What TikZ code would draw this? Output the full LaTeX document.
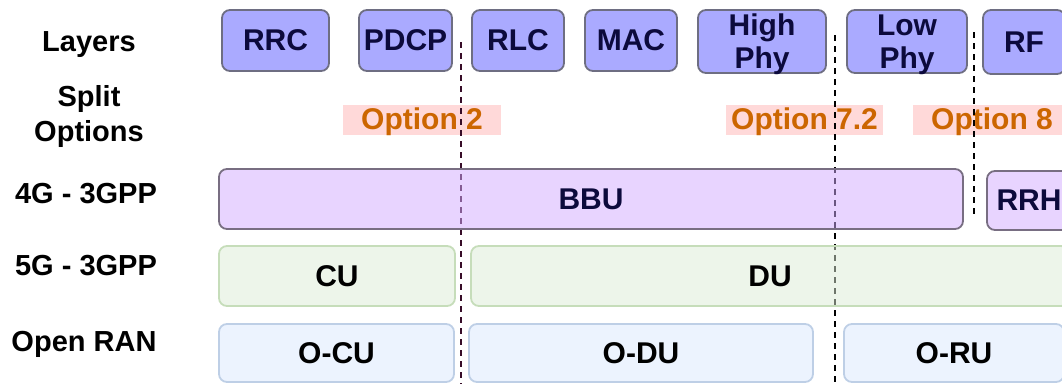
\documentclass[tikz,border=0pt]{standalone}
\usepackage{fontspec}
\setmainfont{Liberation Sans}
\definecolor{layerfill}{RGB}{170,170,255}
\definecolor{layerdraw}{RGB}{110,110,130}
\definecolor{navytext}{RGB}{12,10,60}
\definecolor{bbufill}{RGB}{210,170,255}
\definecolor{bbudraw}{RGB}{120,110,130}
\definecolor{cufill}{RGB}{219,235,213}
\definecolor{cudraw}{RGB}{198,221,186}
\definecolor{orufill}{RGB}{217,231,253}
\definecolor{orudraw}{RGB}{190,207,230}
\definecolor{optfill}{RGB}{255,217,217}
\definecolor{opttext}{RGB}{204,102,0}
\definecolor{splitone}{RGB}{55,12,40}
\begin{document}
\begin{tikzpicture}[x=1pt,y=-1pt,
  every node/.style={font=\fontsize{30}{31}\selectfont\bfseries, inner sep=0pt},
  rowlabel/.style={anchor=base, align=center, font=\fontsize{29}{35}\selectfont\bfseries},
  layerbox/.style={draw=layerdraw, fill=layerfill, line width=1.8pt, rounded corners=8pt,
    text=navytext, align=center},
  layertext/.style={text=navytext, align=center, font=\fontsize{30}{33}\selectfont\bfseries},
  optbox/.style={fill=optfill, text=opttext, minimum height=30pt, text depth=3pt},
  unitbox/.style={line width=1.8pt, rounded corners=8pt, minimum height=60pt, fill opacity=0.5, text opacity=1},
  bbubox/.style={unitbox, draw=bbudraw, fill=bbufill, text=navytext},
  cubox/.style={unitbox, draw=cudraw, fill=cufill, text=black},
  orubox/.style={unitbox, draw=orudraw, fill=orufill, text=black, minimum height=58pt},
  splitline/.style={line width=1.8pt, dash pattern=on 5.5pt off 5.5pt}
]
\useasboundingbox (0,0) rectangle (1062,383);
\clip (0,0) rectangle (1062,383);

% row titles
\node[rowlabel] (tlayers) at (89,51.7) {Layers};
\node[rowlabel] (tsplit) at (89,141.7) {Split\\Options};
\node[rowlabel] (t4g) at (86,203.3) {4G - 3GPP};
\node[rowlabel] (t5g) at (86,275) {5G - 3GPP};
\node[rowlabel] (toran) at (84,351.7) {Open RAN};

% protocol layers
\node[layerbox, minimum width=107pt, minimum height=61pt] (rrc) at (275.5,40.5) {RRC};
\node[layerbox, minimum width=93pt, minimum height=61pt] (pdcp) at (405.5,40.5) {PDCP};
\node[layerbox, minimum width=92pt, minimum height=61pt] (rlc) at (518,40.5) {RLC};
\node[layerbox, minimum width=92pt, minimum height=61pt] (mac) at (631,40.5) {MAC};
\node[layerbox, minimum width=128pt, minimum height=63pt] (hphy) at (762,41.5) {};
\node[layertext] (hphytext) at (762,44.5) {High\\Phy};
\node[layerbox, minimum width=120pt, minimum height=63pt] (lphy) at (907,41.5) {};
\node[layertext] (lphytext) at (907,44.5) {Low\\Phy};
\node[layerbox, minimum width=82pt, minimum height=64pt] (rf) at (1024,42) {RF};

% split option tags
\node[optbox, minimum width=158pt] (opt2) at (422,120) {Option 2};
\node[optbox, minimum width=157pt] (opt72) at (804.5,120) {Option 7.2};
\node[optbox, minimum width=158pt] (opt8) at (992,120) {Option 8};

% split boundaries
\coordinate (s2top) at (461,42);
\coordinate (s2bot) at (461,390);
\coordinate (s72top) at (835,35);
\coordinate (s72bot) at (835,390);
\coordinate (s8top) at (974,32);
\coordinate (s8bot) at (974,215);
\draw[splitline, draw=splitone] (s2top) -- (s2bot);
\draw[splitline, draw=black] (s72top) -- (s72bot);
\draw[splitline, draw=black] (s8top) -- (s8bot);

% 4G functional split
\node[bbubox, minimum width=744pt] (bbu) at (591,199) {BBU};
\node[bbubox, minimum width=84pt, minimum height=59pt] (rrh) at (1029,200.5) {RRH};

% 5G functional split
\node[cubox, minimum width=236pt] (cu) at (337,276) {CU};
\node[cubox, minimum width=598pt] (du) at (770,276) {DU};

% O-RAN functional split
\node[orubox, minimum width=235pt] (ocu) at (336.5,353) {O-CU};
\node[orubox, minimum width=344pt] (odu) at (641,353) {O-DU};
\node[orubox, minimum width=220pt] (oru) at (954,353) {O-RU};
\end{tikzpicture}
\end{document}
